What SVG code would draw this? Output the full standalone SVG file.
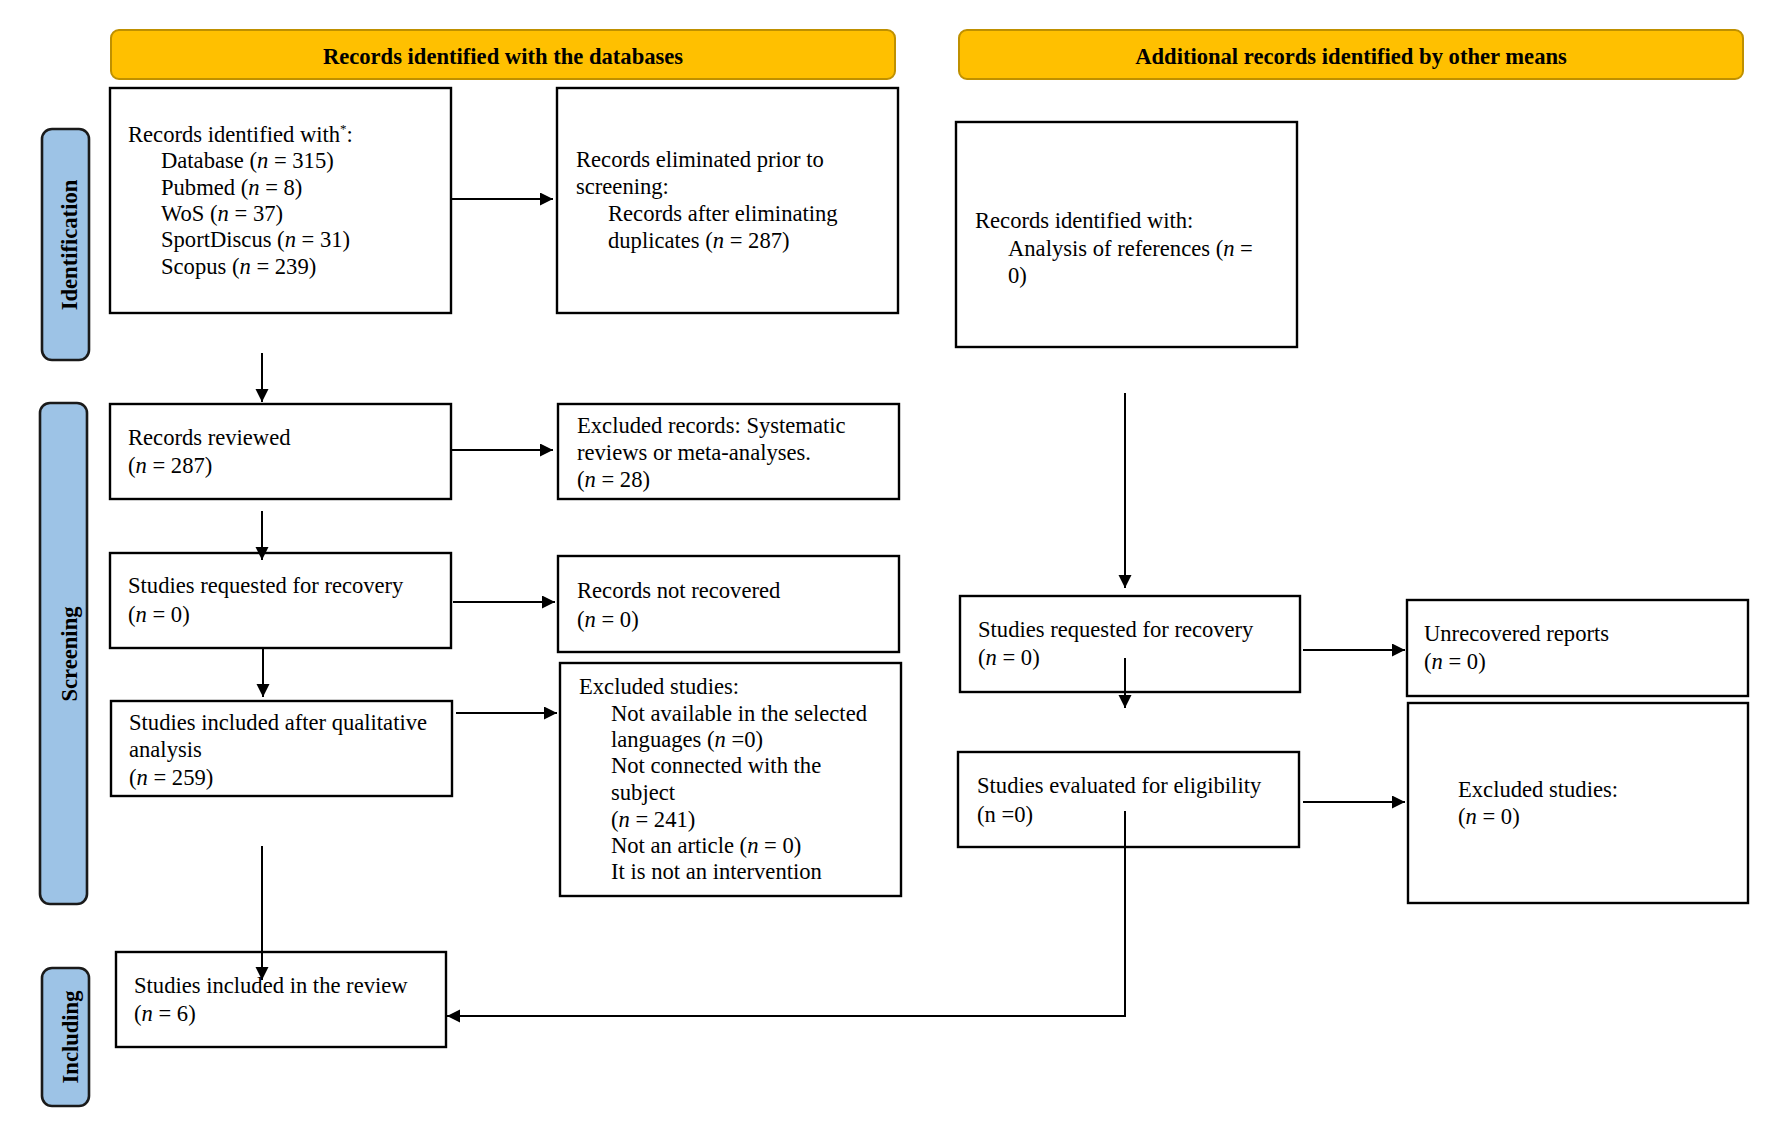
<svg xmlns="http://www.w3.org/2000/svg" width="1775" height="1136" viewBox="0 0 1775 1136">
<defs>
<style>
.box{fill:#fff;stroke:#000;stroke-width:2.4}
.banner{fill:#FFC000;stroke:#BF9000;stroke-width:2}
.pill{fill:#9DC3E6;stroke:#1a1a1a;stroke-width:2.6}
.t{font-family:"Liberation Serif","Times New Roman",serif;font-size:22.6px;fill:#000}
.b{font-weight:bold}
.i{font-style:italic}
.c{fill:none;stroke:#000;stroke-width:2}
</style>
<marker id="ah" markerUnits="userSpaceOnUse" markerWidth="14" markerHeight="14" refX="13" refY="6.5" orient="auto">
<path d="M0,0 L13,6.5 L0,13 Z" fill="#000"/>
</marker>
</defs>
<rect width="1775" height="1136" fill="#fff"/>

<g id="banner-databases">
<rect class="banner" x="111" y="30" width="784" height="49" rx="8"/>
<text class="t b" x="503" y="64" text-anchor="middle">Records identified with the databases</text>
</g>
<g id="banner-other">
<rect class="banner" x="959" y="30" width="784" height="49" rx="8"/>
<text class="t b" x="1351" y="64" text-anchor="middle">Additional records identified by other means</text>
</g>

<g id="phase-identification">
<rect class="pill" x="42" y="129" width="47" height="231" rx="10"/>
<text class="t b" transform="translate(77,245) rotate(-90)" text-anchor="middle">Identification</text>
</g>
<g id="phase-screening">
<rect class="pill" x="40" y="403" width="47" height="501" rx="10"/>
<text class="t b" transform="translate(77,654) rotate(-90)" text-anchor="middle">Screening</text>
</g>
<g id="phase-including">
<rect class="pill" x="42" y="968" width="47" height="138" rx="10"/>
<text class="t b" transform="translate(78,1037) rotate(-90)" text-anchor="middle">Including</text>
</g>

<g id="records-identified">
<rect class="box" x="110" y="88" width="341" height="225"/>
<text class="t" x="128" y="142">Records identified with<tspan font-size="13" dy="-9">*</tspan><tspan dy="9">:</tspan></text>
<text class="t" x="161" y="168">Database (<tspan class="i">n</tspan> = 315)</text>
<text class="t" x="161" y="195">Pubmed (<tspan class="i">n</tspan> = 8)</text>
<text class="t" x="161" y="221">WoS (<tspan class="i">n</tspan> = 37)</text>
<text class="t" x="161" y="247">SportDiscus (<tspan class="i">n</tspan> = 31)</text>
<text class="t" x="161" y="274">Scopus (<tspan class="i">n</tspan> = 239)</text>
</g>
<g id="records-eliminated">
<rect class="box" x="557" y="88" width="341" height="225"/>
<text class="t" x="576" y="167">Records eliminated prior to</text>
<text class="t" x="576" y="194">screening:</text>
<text class="t" x="608" y="221">Records after eliminating</text>
<text class="t" x="608" y="248">duplicates (<tspan class="i">n</tspan> = 287)</text>
</g>
<g id="records-other">
<rect class="box" x="956" y="122" width="341" height="225"/>
<text class="t" x="975" y="228">Records identified with:</text>
<text class="t" x="1008" y="256">Analysis of references (<tspan class="i">n</tspan> =</text>
<text class="t" x="1008" y="283">0)</text>
</g>

<g id="records-reviewed">
<rect class="box" x="110" y="404" width="341" height="95"/>
<text class="t" x="128" y="445">Records reviewed</text>
<text class="t" x="128" y="473">(<tspan class="i">n</tspan> = 287)</text>
</g>
<g id="excluded-records">
<rect class="box" x="558" y="404" width="341" height="95"/>
<text class="t" x="577" y="433">Excluded records: Systematic</text>
<text class="t" x="577" y="460">reviews or meta-analyses.</text>
<text class="t" x="577" y="487">(<tspan class="i">n</tspan> = 28)</text>
</g>
<g id="studies-requested">
<rect class="box" x="110" y="553" width="341" height="95"/>
<text class="t" x="128" y="593">Studies requested for recovery</text>
<text class="t" x="128" y="622">(<tspan class="i">n</tspan> = 0)</text>
</g>
<g id="records-not-recovered">
<rect class="box" x="558" y="556" width="341" height="96"/>
<text class="t" x="577" y="598">Records not recovered</text>
<text class="t" x="577" y="627">(<tspan class="i">n</tspan> = 0)</text>
</g>
<g id="studies-qualitative">
<rect class="box" x="111" y="701" width="341" height="95"/>
<text class="t" x="129" y="730">Studies included after qualitative</text>
<text class="t" x="129" y="757">analysis</text>
<text class="t" x="129" y="785">(<tspan class="i">n</tspan> = 259)</text>
</g>
<g id="excluded-studies">
<rect class="box" x="560" y="663" width="341" height="233"/>
<text class="t" x="579" y="694">Excluded studies:</text>
<text class="t" x="611" y="721">Not available in the selected</text>
<text class="t" x="611" y="747">languages (<tspan class="i">n</tspan> =0)</text>
<text class="t" x="611" y="773">Not connected with the</text>
<text class="t" x="611" y="800">subject</text>
<text class="t" x="611" y="827">(<tspan class="i">n</tspan> = 241)</text>
<text class="t" x="611" y="853">Not an article (<tspan class="i">n</tspan> = 0)</text>
<text class="t" x="611" y="879">It is not an intervention</text>
</g>
<g id="studies-included-review">
<rect class="box" x="116" y="952" width="330" height="95"/>
<text class="t" x="134" y="993">Studies included in the review</text>
<text class="t" x="134" y="1021">(<tspan class="i">n</tspan> = 6)</text>
</g>

<g id="studies-requested-other">
<rect class="box" x="960" y="596" width="340" height="96"/>
<text class="t" x="978" y="637">Studies requested for recovery</text>
<text class="t" x="978" y="665">(<tspan class="i">n</tspan> = 0)</text>
</g>
<g id="unrecovered-reports">
<rect class="box" x="1407" y="600" width="341" height="96"/>
<text class="t" x="1424" y="641">Unrecovered reports</text>
<text class="t" x="1424" y="669">(<tspan class="i">n</tspan> = 0)</text>
</g>
<g id="studies-eligibility">
<rect class="box" x="958" y="752" width="341" height="95"/>
<text class="t" x="977" y="793">Studies evaluated for eligibility</text>
<text class="t" x="977" y="822">(n =0)</text>
</g>
<g id="excluded-studies-other">
<rect class="box" x="1408" y="703" width="340" height="200"/>
<text class="t" x="1458" y="797">Excluded studies:</text>
<text class="t" x="1458" y="824">(<tspan class="i">n</tspan> = 0)</text>
</g>

<g id="connectors">
<line class="c" x1="451" y1="199" x2="553" y2="199" marker-end="url(#ah)"/>
<line class="c" x1="262" y1="353" x2="262" y2="402" marker-end="url(#ah)"/>
<line class="c" x1="451" y1="450" x2="553" y2="450" marker-end="url(#ah)"/>
<line class="c" x1="262" y1="511" x2="262" y2="560" marker-end="url(#ah)"/>
<line class="c" x1="453" y1="602" x2="555" y2="602" marker-end="url(#ah)"/>
<line class="c" x1="263" y1="648" x2="263" y2="697" marker-end="url(#ah)"/>
<line class="c" x1="456" y1="713" x2="557" y2="713" marker-end="url(#ah)"/>
<line class="c" x1="262" y1="846" x2="262" y2="980" marker-end="url(#ah)"/>
<line class="c" x1="1125" y1="393" x2="1125" y2="588" marker-end="url(#ah)"/>
<line class="c" x1="1303" y1="650" x2="1405" y2="650" marker-end="url(#ah)"/>
<line class="c" x1="1125" y1="658" x2="1125" y2="708" marker-end="url(#ah)"/>
<line class="c" x1="1303" y1="802" x2="1405" y2="802" marker-end="url(#ah)"/>
<polyline class="c" points="1125,811 1125,1016 447,1016" marker-end="url(#ah)"/>
</g>
</svg>
